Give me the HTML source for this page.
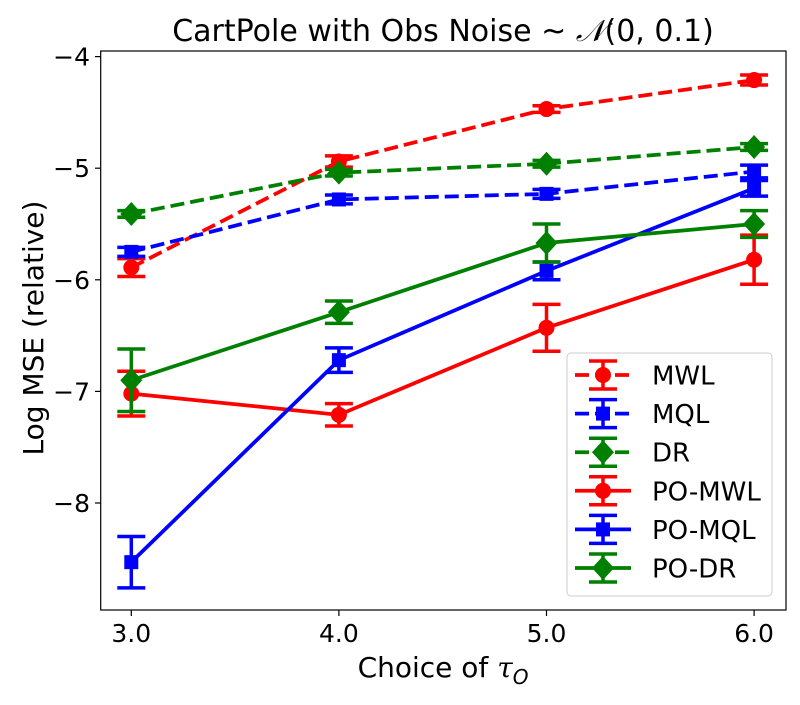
<!DOCTYPE html>
<html><head><meta charset="utf-8"><style>
body{margin:0;background:#fff;width:800px;height:700px;overflow:hidden}
svg text{font-family:"DejaVu Sans","Liberation Sans",sans-serif;fill:#000}
</style></head><body>
<svg id="chart" width="800" height="700" xmlns="http://www.w3.org/2000/svg">
<text x="443" y="41" font-size="30" text-anchor="middle">CartPole with Obs Noise  ~ <tspan font-family="DejaVu Serif" font-style="italic">𝒩</tspan>(0, 0.1)</text>
<text x="443" y="677" font-size="28" text-anchor="middle">Choice of <tspan font-family="DejaVu Serif" font-style="italic">τ</tspan><tspan font-size="20" dy="7" font-style="italic">O</tspan></text>
<text transform="translate(43,328) rotate(-90)" font-size="28" text-anchor="middle">Log MSE (relative)</text>
<g id="grid"></g>
<g id="series"></g>
<rect x="100.7" y="51" width="685.3" height="559" fill="none" stroke="#000" stroke-width="1.2"/>
<g id="legend"></g>
</svg>
<script>
const xCats=[3,4,5,6];
const xTickLabels=["3.0","4.0","5.0","6.0"];
const yTicks=[-4,-5,-6,-7,-8];
const yTickLabels=["−4","−5","−6","−7","−8"];
const seriesNames=["MWL","MQL","DR","PO-MWL","PO-MQL","PO-DR"];
const mwl=[-5.89,-4.94,-4.47,-4.21];
const mwlErr=[0.08,0.05,0.03,0.045];
const mql=[-5.75,-5.28,-5.23,-5.03];
const mqlErr=[0.04,0.04,0.04,0.057];
const dr=[-5.41,-5.04,-4.96,-4.81];
const drErr=[0.03,0.03,0.03,0.03];
const poMwl=[-7.02,-7.21,-6.43,-5.82];
const poMwlErr=[0.2,0.1,0.21,0.22];
const poMql=[-8.53,-6.72,-5.92,-5.18];
const poMqlErr=[0.23,0.11,0.08,0.07];
const poDr=[-6.90,-6.29,-5.67,-5.50];
const poDrErr=[0.28,0.1,0.17,0.12];

const NS="http://www.w3.org/2000/svg";
const X=v=>131.3+(v-3)*207.6;
const Y=v=>56.6-(v+4)*111.6;
function mk(tag,attrs,parent){const e=document.createElementNS(NS,tag);for(const k in attrs)e.setAttribute(k,attrs[k]);parent.appendChild(e);return e;}
const grid=document.getElementById('grid');
xCats.forEach((c,i)=>{
 const t=mk('line',{x1:X(c),x2:X(c),y1:610,y2:616,stroke:'#000','stroke-width':1.2},grid);
 
 
 const l=mk('text',{x:X(c),y:642,'font-size':25,'text-anchor':'middle'},grid);
 l.textContent=xTickLabels[i];
 
 
});
yTicks.forEach((v,i)=>{
 const t=mk('line',{x1:95,x2:100.7,y1:Y(v),y2:Y(v),stroke:'#000','stroke-width':1.2},grid);
 
 
 const l=mk('text',{x:90,y:Y(v)+9,'font-size':25,'text-anchor':'end'},grid);
 l.textContent=yTickLabels[i];
 
 
});
const defs=[
 {vals:mwl,err:mwlErr,color:'#ff0000',dash:true,m:'circle'},
 {vals:mql,err:mqlErr,color:'#0000ff',dash:true,m:'square'},
 {vals:dr,err:drErr,color:'#008000',dash:true,m:'diamond'},
 {vals:poMwl,err:poMwlErr,color:'#ff0000',dash:false,m:'circle'},
 {vals:poMql,err:poMqlErr,color:'#0000ff',dash:false,m:'square'},
 {vals:poDr,err:poDrErr,color:'#008000',dash:false,m:'diamond'}
];
function marker(g,type,x,y,color){
 let e;
 if(type==='circle')e=mk('circle',{cx:x,cy:y,r:8,fill:color},g);
 else if(type==='square')e=mk('rect',{x:x-7,y:y-7,width:14,height:14,fill:color},g);
 else e=mk('polygon',{points:`${x},${y-12} ${x+11},${y} ${x},${y+12} ${x-11},${y}`,fill:color},g);
 return e;
}
function errbar(g,x,y1,y2,color){
 mk('line',{x1:x,x2:x,y1:y1,y2:y2,stroke:color,'stroke-width':3.5},g);
 mk('line',{x1:x-14,x2:x+14,y1:y1,y2:y1,stroke:color,'stroke-width':3.5},g);
 mk('line',{x1:x-14,x2:x+14,y1:y2,y2:y2,stroke:color,'stroke-width':3.5},g);
}
const sg=document.getElementById('series');
defs.forEach((d,si)=>{
 const g=mk('g',{},sg);
 
 
 const pts=d.vals.map((v,i)=>X(xCats[i])+','+Y(v)).join(' ');
 const pl=mk('polyline',{points:pts,fill:'none',stroke:d.color,'stroke-width':3.75,'stroke-dasharray':d.dash?'14,6':'none'},g);
 
 
 d.vals.forEach((v,i)=>{
  errbar(g,X(xCats[i]),Y(v+d.err[i]),Y(v-d.err[i]),d.color);
  const m=marker(g,d.m,X(xCats[i]),Y(v),d.color);
  
  
 });
});
const lg=document.getElementById('legend');
const box=mk('rect',{x:567,y:353,width:205,height:243,rx:4,fill:'#fff','fill-opacity':0.8,stroke:'#ccc','stroke-width':1},lg);


defs.forEach((d,si)=>{
 const y=375+si*38.6;
 const g=mk('g',{},lg);
 
 
 mk('line',{x1:575,x2:631,y1:y,y2:y,stroke:d.color,'stroke-width':3.75,'stroke-dasharray':d.dash?'14,6':'none'},g);
 errbar(g,603,y-14,y+14,d.color);
 marker(g,d.m,603,y,d.color);
 const t=mk('text',{x:652,y:y+9.5,'font-size':26},g);
 t.textContent=seriesNames[si];
});
</script>
</body></html>
